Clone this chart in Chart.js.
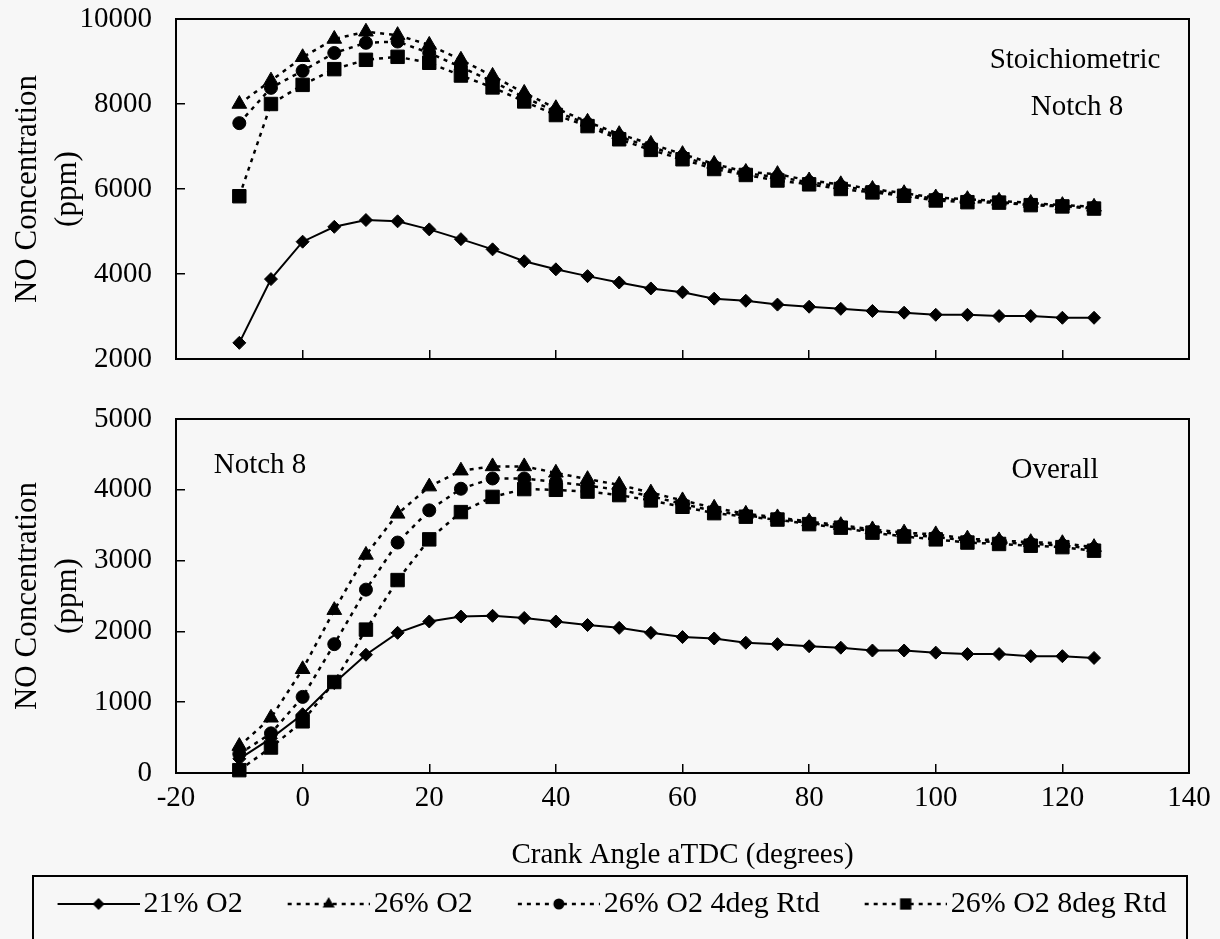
<!DOCTYPE html>
<html>
<head>
<meta charset="utf-8">
<title>NO Concentration vs Crank Angle</title>
<script src="https://cdn.jsdelivr.net/npm/chart.js@4.4.1/dist/chart.umd.min.js"></script>
<style>
  html, body { margin: 0; padding: 0; background: #f7f7f7; }
  #wrap { position: relative; width: 1220px; height: 939px; overflow: hidden; }
  #stoichChart { position: absolute; left: 0; top: 0; }
  #overallChart { position: absolute; left: 0; top: 380px; }
</style>
</head>
<body>
<div id="wrap">
  <canvas id="stoichChart" width="1220" height="380"></canvas>
  <canvas id="overallChart" width="1220" height="559"></canvas>
</div>
<script>
// crank angle (deg aTDC) shared by every series
const crankAngle = [-10, -5, 0, 5, 10, 15, 20, 25, 30, 35, 40, 45, 50, 55, 60, 65, 70, 75, 80, 85, 90, 95, 100, 105, 110, 115, 120, 125];

const seriesNames = ['21% O2', '26% O2', '26% O2 4deg Rtd', '26% O2 8deg Rtd'];

// stoichiometric zone, notch 8 (ppm)
const stoich21 = [2380, 3880, 4760, 5110, 5270, 5240, 5050, 4820, 4580, 4300, 4110, 3950, 3800, 3660, 3570, 3420, 3370, 3280, 3230, 3180, 3130, 3090, 3040, 3040, 3010, 3010, 2970, 2970];
const stoich26 = [8000, 8550, 9100, 9530, 9700, 9620, 9390, 9040, 8660, 8260, 7900, 7580, 7290, 7060, 6820, 6590, 6400, 6350, 6200, 6110, 6000, 5900, 5800, 5760, 5720, 5670, 5620, 5580];
const stoich26r4 = [7550, 8380, 8780, 9200, 9440, 9470, 9200, 8870, 8530, 8160, 7820, 7530, 7230, 6990, 6760, 6530, 6370, 6280, 6160, 6060, 5960, 5870, 5770, 5730, 5690, 5640, 5600, 5560];
const stoich26r8 = [5830, 8000, 8450, 8820, 9040, 9110, 8970, 8670, 8390, 8060, 7740, 7480, 7170, 6920, 6700, 6470, 6330, 6200, 6110, 6000, 5920, 5840, 5730, 5690, 5680, 5620, 5590, 5540];

// overall cylinder, notch 8 (ppm)
const overall21 = [200, 490, 830, 1270, 1670, 1980, 2140, 2210, 2220, 2190, 2140, 2090, 2050, 1980, 1920, 1900, 1840, 1820, 1790, 1770, 1730, 1730, 1700, 1680, 1680, 1650, 1650, 1625];
const overall26 = [380, 780, 1465, 2300, 3080, 3660, 4045, 4270, 4330, 4330, 4240, 4150, 4070, 3960, 3850, 3745, 3660, 3610, 3550, 3500, 3440, 3395, 3370, 3310, 3285, 3260, 3245, 3190];
const overall26r4 = [270, 560, 1075, 1820, 2590, 3255, 3710, 4015, 4160, 4160, 4110, 4060, 4000, 3910, 3800, 3700, 3635, 3595, 3530, 3480, 3415, 3365, 3335, 3280, 3260, 3235, 3215, 3165];
const overall26r8 = [40, 360, 730, 1285, 2025, 2725, 3300, 3685, 3900, 4010, 4000, 3975, 3925, 3850, 3760, 3670, 3620, 3580, 3515, 3465, 3395, 3340, 3300, 3255, 3235, 3210, 3190, 3140];

const SERIF = '"Liberation Serif", "Times New Roman", serif';
Chart.defaults.font.family = SERIF;
Chart.defaults.color = '#000';

const markerStyle = ['rectRot', 'triangle', 'circle', 'rect'];
const markerSize = [6.5, 8.5, 6.5, 9.5];
const legendMarkerSize = [6, 7, 5.5, 8];
const lineDash = [[], [4, 5], [4, 5], [4, 5]];
const lineWidth = [2, 2.5, 2.5, 2.5];

function buildDatasets(seriesList) {
    return seriesList.map((values, i) => ({
        label: seriesNames[i],
        data: crankAngle.map((angle, j) => ({ x: angle, y: values[j] })),
        borderColor: '#000',
        backgroundColor: '#000',
        borderWidth: lineWidth[i],
        borderDash: lineDash[i],
        pointStyle: markerStyle[i],
        pointRadius: markerSize[i],
        pointBorderWidth: 1,
        pointBackgroundColor: '#000',
        pointBorderColor: '#000',
        tension: 0,
        clip: false
    }));
}

// small marker drawer for the legend samples
function drawMarker(g, style, r, x, y) {
    g.beginPath();
    if (style === 'rectRot') {
        g.moveTo(x - r, y); g.lineTo(x, y - r); g.lineTo(x + r, y); g.lineTo(x, y + r);
    } else if (style === 'triangle') {
        g.moveTo(x, y - r);
        g.lineTo(x + r * 0.866, y + r * 0.5);
        g.lineTo(x - r * 0.866, y + r * 0.5);
    } else if (style === 'circle') {
        g.arc(x, y, r, 0, Math.PI * 2);
    } else {
        const s = r * Math.SQRT1_2;
        g.rect(x - s, y - s, 2 * s, 2 * s);
    }
    g.closePath();
    g.fill();
}

// line + marker sample used as the legend point style
function makeSwatch(i) {
    const c = document.createElement('canvas');
    c.width = 128;
    c.height = 24;
    const g = c.getContext('2d');
    g.strokeStyle = '#000';
    g.fillStyle = '#000';
    g.lineWidth = i === 0 ? 2 : 2.5;
    g.setLineDash(lineDash[i]);
    g.beginPath();
    g.moveTo(46, 12);
    g.lineTo(128, 12);
    g.stroke();
    g.setLineDash([]);
    drawMarker(g, markerStyle[i], legendMarkerSize[i], 87, 12);
    return c;
}
const swatches = seriesNames.map((n, i) => makeSwatch(i));

// box round the plot area (and round the legend when asked)
const panelFrame = {
    id: 'panelFrame',
    afterDraw(chart, args, opts) {
        const { ctx, chartArea } = chart;
        ctx.save();
        ctx.strokeStyle = '#000';
        ctx.lineWidth = 2;
        ctx.strokeRect(chartArea.left, chartArea.top, chartArea.right - chartArea.left, chartArea.bottom - chartArea.top);
        if (opts.legendBox && chart.legend) {
            ctx.strokeRect(33, chart.legend.top - 3, 1154, 200);
        }
        ctx.restore();
    }
};

// text labels placed inside the plot area
const panelNotes = {
    id: 'panelNotes',
    afterDraw(chart, args, opts) {
        const { ctx, chartArea } = chart;
        ctx.save();
        ctx.font = '29px ' + SERIF;
        ctx.fillStyle = '#000';
        ctx.textAlign = 'center';
        ctx.textBaseline = 'alphabetic';
        (opts.items || []).forEach(note => {
            const x = note.from === 'left' ? chartArea.left + note.dx : chartArea.right + note.dx;
            ctx.fillText(note.text, x, chartArea.top + note.dy);
        });
        ctx.restore();
    }
};

function panelScales(yMin, yMax, yStep, showX) {
    const tickMark = () => ({ color: '#000', lineWidth: 1.5, drawOnChartArea: false, tickLength: -9 });
    return {
        x: {
            type: 'linear',
            min: -20,
            max: 140,
            border: { display: false },
            grid: tickMark(),
            ticks: {
                display: showX,
                stepSize: 20,
                padding: 17,
                font: { size: 29 },
                color: '#000',
                callback: v => String(v)
            },
            title: {
                display: showX,
                text: 'Crank Angle aTDC (degrees)',
                font: { size: 29 },
                color: '#000',
                padding: { top: 0, bottom: 6 }
            },
            afterFit: s => {
                s.height = showX ? 106 : 0;
                s.paddingLeft = 0;
                s.paddingRight = 0;
            }
        },
        y: {
            min: yMin,
            max: yMax,
            border: { display: false },
            grid: tickMark(),
            ticks: {
                stepSize: yStep,
                padding: 33,
                font: { size: 29 },
                color: '#000',
                callback: v => String(v)
            },
            title: {
                display: true,
                text: ['NO Concentration', '(ppm)'],
                font: { size: 31, lineHeight: 1.29 },
                color: '#000',
                padding: { top: 8, bottom: 0 }
            },
            afterFit: s => {
                s.width = 176;
                s.paddingTop = 0;
                s.paddingBottom = 0;
            }
        }
    };
}

new Chart(document.getElementById('stoichChart'), {
    type: 'line',
    data: { datasets: buildDatasets([stoich21, stoich26, stoich26r4, stoich26r8]) },
    options: {
        responsive: false,
        animation: false,
        devicePixelRatio: 1,
        layout: { padding: { top: 19, right: 31, bottom: 21, left: 0 } },
        scales: panelScales(2000, 10000, 2000, false),
        plugins: {
            legend: { display: false },
            tooltip: { enabled: false },
            panelFrame: {},
            panelNotes: {
                items: [
                    { text: 'Stoichiometric', from: 'right', dx: -114, dy: 49 },
                    { text: 'Notch 8', from: 'right', dx: -112, dy: 96 }
                ]
            }
        }
    },
    plugins: [panelFrame, panelNotes]
});

new Chart(document.getElementById('overallChart'), {
    type: 'line',
    data: { datasets: buildDatasets([overall21, overall26, overall26r4, overall26r8]) },
    options: {
        responsive: false,
        animation: false,
        devicePixelRatio: 1,
        layout: { padding: { top: 39, right: 31, bottom: 10, left: 0 } },
        scales: panelScales(0, 5000, 1000, true),
        plugins: {
            tooltip: { enabled: false },
            legend: {
                position: 'bottom',
                labels: {
                    usePointStyle: true,
                    pointStyleWidth: 106,
                    padding: 10,
                    font: { size: 30 },
                    color: '#000',
                    generateLabels: () => seriesNames.map((name, i) => ({
                        text: name,
                        pointStyle: swatches[i],
                        datasetIndex: i,
                        hidden: false,
                        fillStyle: '#000',
                        strokeStyle: '#000',
                        lineWidth: 0,
                        fontColor: '#000'
                    }))
                }
            },
            panelFrame: { legendBox: true },
            panelNotes: {
                items: [
                    { text: 'Notch 8', from: 'left', dx: 84, dy: 54 },
                    { text: 'Overall', from: 'right', dx: -134, dy: 59 }
                ]
            }
        }
    },
    plugins: [panelFrame, panelNotes]
});
</script>
</body>
</html>
